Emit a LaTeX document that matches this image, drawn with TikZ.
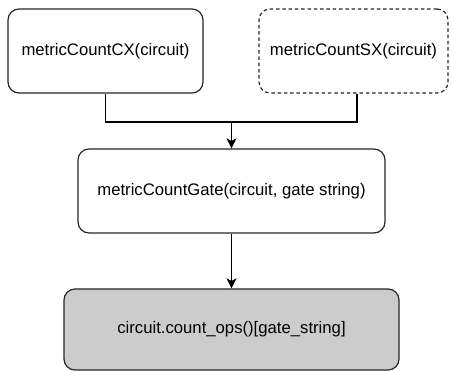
\documentclass[tikz,border=0pt]{standalone}
\usepackage{fontspec}
\setmainfont{Liberation Sans}
\usetikzlibrary{arrows.meta}
\begin{document}
\begin{tikzpicture}[x=1pt,y=-1pt,
  box/.style={draw=black!85, line width=1.2pt, rounded corners=11pt, rectangle, align=center, font=\fontsize{16.7}{20}\selectfont, inner sep=0pt},
  conn/.style={line width=1.1pt, draw=black},
  arr/.style={conn, -{Stealth[length=10pt,width=10pt,inset=2.5pt]}}]
\useasboundingbox (0,0) rectangle (451,371);
\node[box, minimum width=195pt, minimum height=84pt] (cx) at (105.5,51) {metricCountCX(circuit)};
\node[box, dash pattern=on 3.5pt off 2.8pt, minimum width=189pt, minimum height=84pt] (sx) at (353.5,51) {metricCountSX(circuit)};
\node[box, minimum width=307pt, minimum height=84pt] (gate) at (231.5,191) {metricCountGate(circuit, gate string)};
\node[box, fill=black!20, minimum width=335pt, minimum height=81pt] (ops) at (231.5,329.5) {circuit.count\_ops()[gate\_string]};
\coordinate (j) at (231.5,122);
\draw[conn] (cx.south) |- (j);
\draw[conn] ([xshift=3.5pt]sx.south) |- (j);
\draw[arr] (j) -- (gate.north);
\draw[arr] (gate.south) -- (ops.north);
\end{tikzpicture}
\end{document}
